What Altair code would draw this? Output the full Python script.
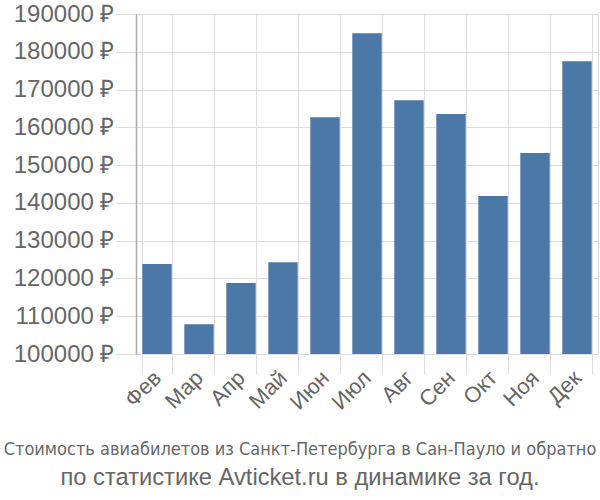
import altair as alt
import pandas as pd

months = ["Фев", "Мар", "Апр", "Май", "Июн", "Июл", "Авг", "Сен", "Окт", "Ноя", "Дек"]
prices = [123800, 107900, 118800, 124300, 162700, 184900, 167200, 163500, 141800, 153200, 177500]

title_line1 = "Стоимость авиабилетов из Санкт-Петербурга в Сан-Пауло и обратно"
title_line2 = "по статистике Avticket.ru в динамике за год."

df = pd.DataFrame({"month": months, "price": prices})

chart = alt.Chart(df).mark_bar(color="#4c78a8").encode(
    x=alt.X("month:N", sort=months, title=None,
            scale=alt.Scale(paddingInner=0.3, paddingOuter=0.15),
            axis=alt.Axis(tickBand="extent", grid=True, gridColor="#dddddd",
                          tickColor="#dddddd", tickSize=20, domain=False,
                          labelAngle=-45, labelAlign="right", labelBaseline="middle",
                          labelFontSize=22, labelColor="#666666", labelPadding=0,
                          labelFont="Liberation Sans")),
    y=alt.Y("price:Q", title=None,
            scale=alt.Scale(domain=[100000, 190000], zero=False, nice=False),
            axis=alt.Axis(values=list(range(100000, 190001, 10000)),
                          labelExpr="format(datum.value, 'd') + ' ₽'",
                          grid=True, gridColor="#dddddd", tickColor="#dddddd",
                          tickSize=20, labelPadding=2, domainColor="#aaaaaa",
                          domainWidth=1.5, labelFontSize=24, labelColor="#666666",
                          labelFont="Liberation Sans")),
    y2=alt.datum(100000),
).properties(
    width=462,
    height=340,
    autosize=alt.AutoSizeParams(type="none"),
    padding={"left": 136, "top": 14, "right": 2, "bottom": 146},
    title=alt.TitleParams(
        text=title_line1,
        subtitle=title_line2,
        orient="bottom",
        anchor="middle",
        dx=-67,
        offset=28,
        font="Liberation Sans Narrow, DejaVu Sans Condensed, Liberation Sans",
        fontSize=18,
        fontWeight="normal",
        color="#666666",
        subtitleFont="Liberation Sans",
        subtitleFontSize=23.7,
        subtitleColor="#666666",
        subtitlePadding=7,
    ),
).configure_view(stroke="#dddddd")

chart.save("out.html", embed_options={"renderer": "svg", "actions": False})
